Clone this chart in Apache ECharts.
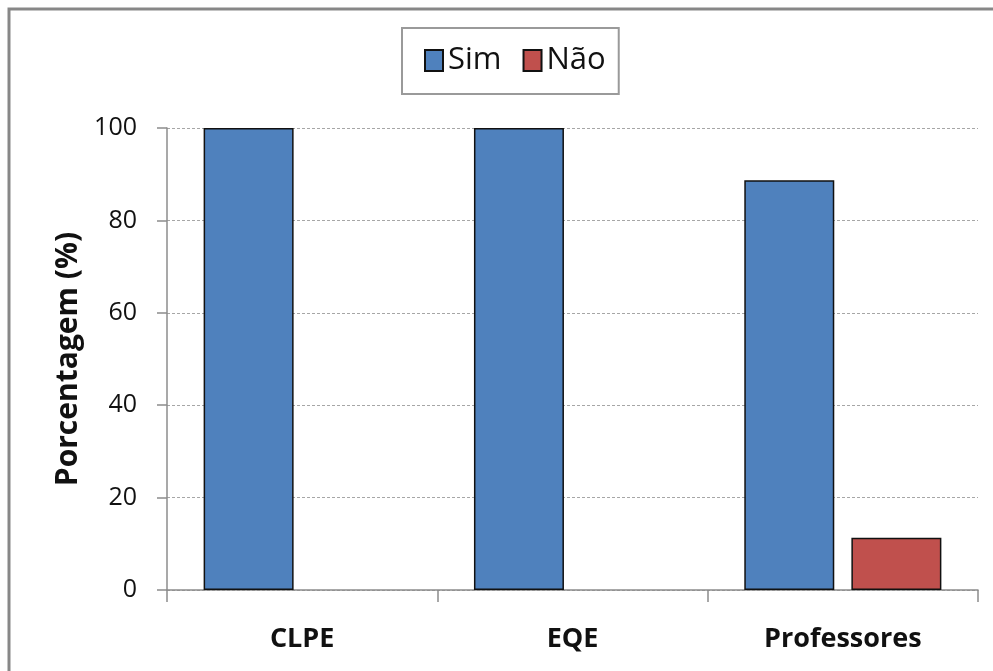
<!DOCTYPE html>
<html>
<head>
<meta charset="utf-8">
<script src="https://cdn.jsdelivr.net/npm/echarts@6/dist/echarts.min.js"></script>
<style>
  html, body { margin: 0; padding: 0; background: #fff; }
  #chart { width: 993px; height: 671px; }
</style>
</head>
<body>
<div id="chart"></div>
<script>
// Porcentagem de respostas Sim / Não por grupo
const categories = ['CLPE', 'EQE', 'Professores'];
const simValues = [100, 100, 88.7];
const naoValues = [0, 0, 11.3];
const yTicks = [0, 20, 40, 60, 80, 100];

const font = '"Open Sans", "Noto Sans", sans-serif';
const chart = echarts.init(document.getElementById('chart'));

chart.setOption({
  backgroundColor: '#fff',
  animation: false,
  textStyle: { fontFamily: font },
  graphic: [{
    type: 'rect',
    shape: { x: 9, y: 9, width: 1000, height: 700 },
    style: { fill: 'none', stroke: '#878787', lineWidth: 3 },
    silent: true,
  }],
  legend: {
    left: 402,
    top: 28,
    padding: [17, 13, 18, 22],
    icon: 'rect',
    itemWidth: 18,
    itemHeight: 21,
    itemGap: 21,
    borderColor: '#9a9a9a',
    borderWidth: 2,
    textStyle: { fontSize: 31, color: '#111', fontFamily: font, padding: [0, 0, 0, 0] },
    data: ['Sim', 'Não'],
  },
  grid: { left: 167, right: 15, top: 128, bottom: 81, containLabel: false },
  xAxis: {
    type: 'category',
    data: categories,
    axisLine: { lineStyle: { color: '#8c8c8c', width: 1.5 } },
    axisTick: { show: true, length: 12, lineStyle: { color: '#8c8c8c', width: 1.5 } },
    axisLabel: { fontSize: 27, fontWeight: 'bold', color: '#111', margin: 36, fontFamily: font },
  },
  yAxis: {
    type: 'value',
    min: 0,
    max: 100,
    interval: 20,
    name: 'Porcentagem (%)',
    nameLocation: 'middle',
    nameGap: 84,
    nameTextStyle: { fontSize: 30, fontWeight: 'bold', color: '#111', fontFamily: font },
    axisLine: { show: true, lineStyle: { color: '#8c8c8c', width: 1.5 } },
    axisTick: { show: true, inside: false, length: 10, lineStyle: { color: '#8c8c8c', width: 1.5 } },
    axisLabel: {
      fontSize: 25, color: '#111', margin: 30, fontFamily: font,
      formatter: (v) => (yTicks.includes(v) ? String(v) : ''),
    },
    splitLine: { lineStyle: { color: '#a6a6a6', type: [3, 2], width: 1 } },
  },
  series: [
    {
      name: 'Sim',
      type: 'bar',
      data: simValues,
      barWidth: 90,
      barGap: '19%',
      itemStyle: { color: '#4F81BD', borderColor: '#111', borderWidth: 1.5 },
    },
    {
      name: 'Não',
      type: 'bar',
      data: naoValues.map((v) => (v === 0 ? null : v)),
      barWidth: 90,
      itemStyle: { color: '#C0504D', borderColor: '#111', borderWidth: 1.5 },
    },
  ],
});
</script>
</body>
</html>
